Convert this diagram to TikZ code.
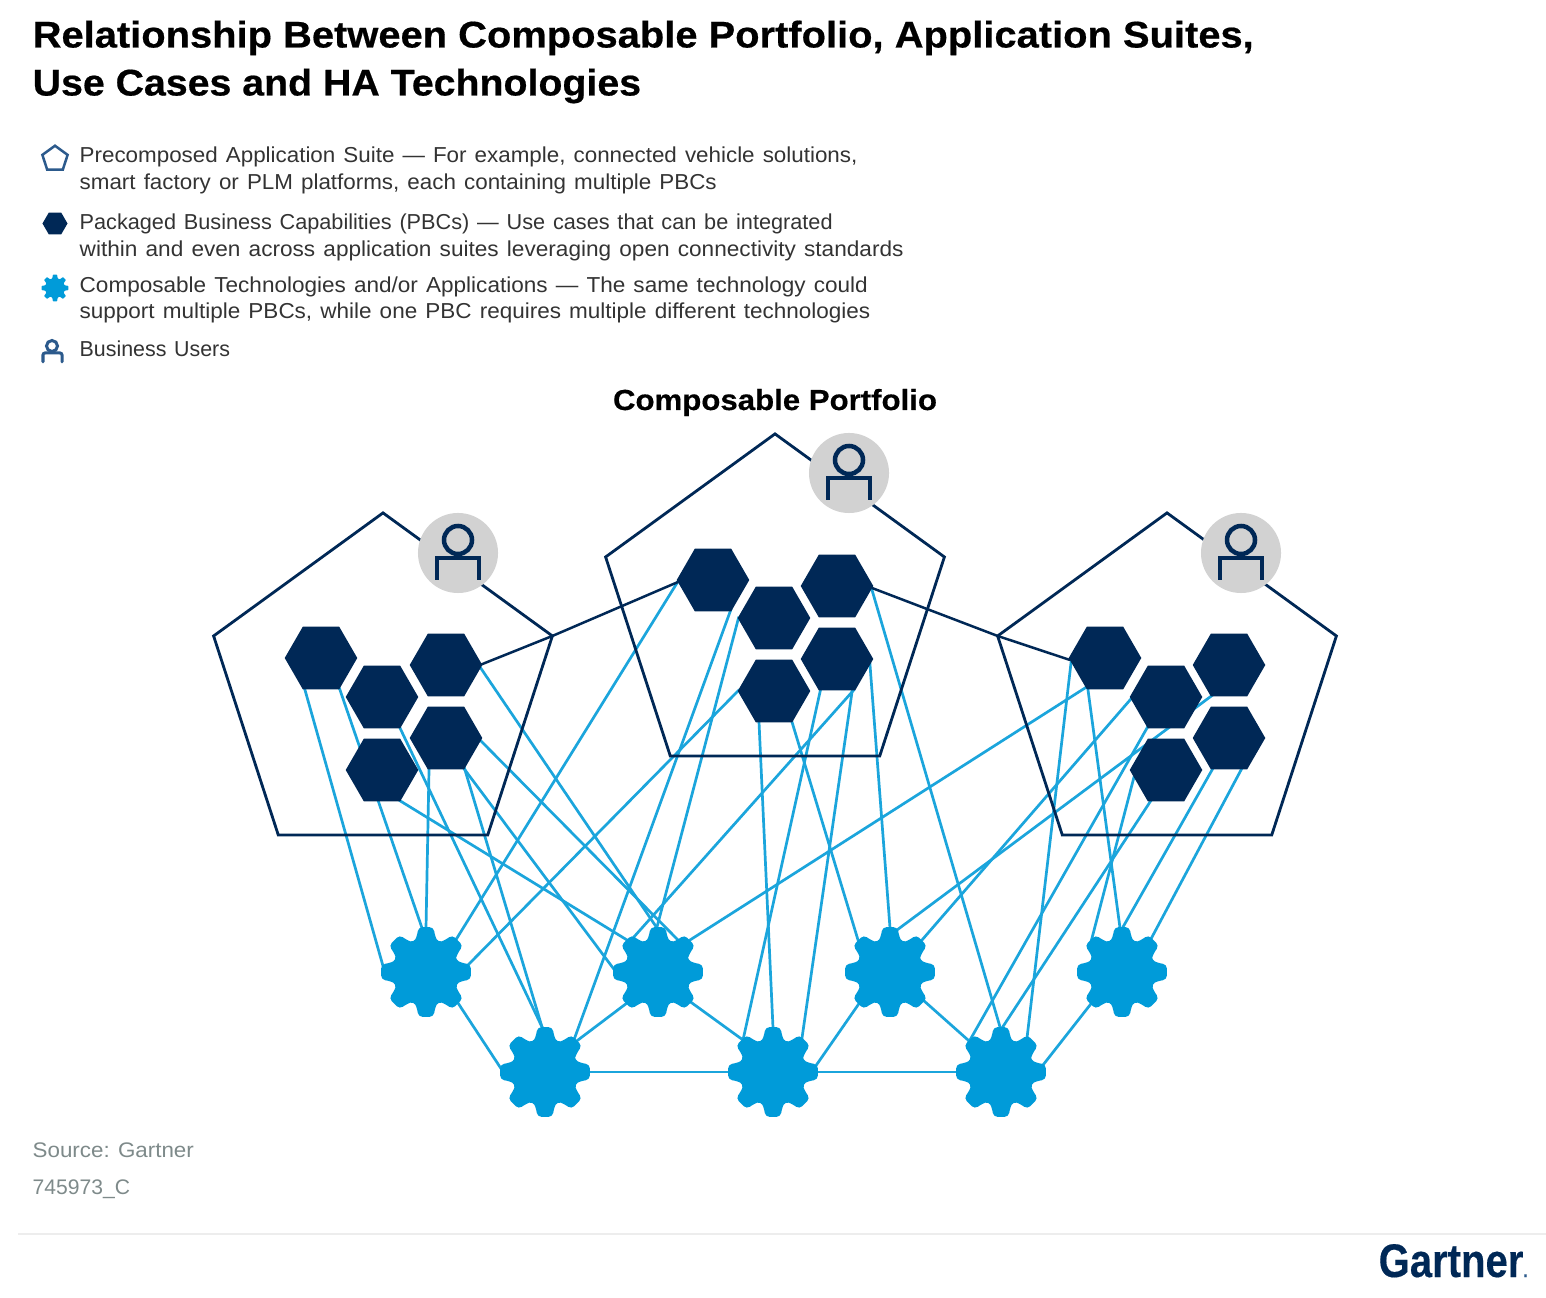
\documentclass[tikz,border=0pt]{standalone}
\usepackage{fontspec}
\setmainfont{Liberation Sans}
\newfontfamily\heavyfont[BoldFeatures={FakeStretch=1.075,FakeBold=0.5}]{Liberation Sans}
\newfontfamily\legendfont[FakeStretch=1.03,WordSpace=1.3]{Liberation Sans}
\newfontfamily\srcfont[FakeStretch=1.06]{Liberation Sans}
\newfontfamily\logofont[BoldFeatures={FakeStretch=0.85,FakeBold=0.3}]{Liberation Sans}
\usetikzlibrary{shapes.geometric}
\pgfdeclarelayer{connlayer}
\pgfsetlayers{connlayer,main}
\definecolor{navy}{HTML}{002856}
\definecolor{legendnavy}{HTML}{2C5A8C}
\definecolor{gearblue}{HTML}{009BD9}
\definecolor{wireblue}{HTML}{1BA5DC}
\definecolor{usergray}{HTML}{D2D2D2}
\definecolor{bodytext}{HTML}{333333}
\definecolor{srctext}{HTML}{7E8A8A}
\tikzset{
  x=0.01cm, y=-0.01cm,
  wire/.style={draw=wireblue, line width=0.027cm, shorten <=-1pt, shorten >=-1pt},
  darkwire/.style={draw=navy, line width=0.025cm},
  suite/.style={regular polygon, regular polygon sides=5, minimum size=3.56cm, inner sep=0pt, outer sep=0pt, draw=navy, line width=0.028cm},
  pbc/.style={regular polygon, regular polygon sides=6, minimum size=0.725cm, inner sep=0pt, outer sep=0pt, fill=navy},
  gearbody/.style={circle, minimum size=0.66cm, inner sep=0pt, outer sep=0pt, fill=gearblue},
  usercircle/.style={circle, minimum size=0.80cm, inner sep=0pt, outer sep=0pt, fill=usergray},
  titletext/.style={anchor=base west, inner sep=0pt, font=\fontsize{10.55}{13.66}\heavyfont\bfseries, text=black, align=left},
  legendtext/.style={anchor=base west, inner sep=0pt, font=\fontsize{6.15}{7.55}\legendfont, text=bodytext, align=left},
  sourcetext/.style={anchor=base west, inner sep=0pt, font=\fontsize{6.0}{7.5}\selectfont, text=srctext},
}
\newcommand{\wirelink}[4]{\begin{pgfonlayer}{connlayer}\draw[wire] ([shift={(#2)}]#1.center) -- ([shift={(#4)}]#3.center);\end{pgfonlayer}}
\newcommand{\geargear}[3]{%
  \node[gearbody] (#1) at (#2,#3) {};
  \fill[gearblue,rounded corners=0.04cm,shift={(#1.center)}] (-22.5:32)
    \foreach \a in {0,45,...,315}{ -- (\a-15:36) -- (\a-9.5:45.5) -- (\a+9.5:45.5) -- (\a+15:36) -- (\a+22.5:32) } -- cycle;
}
\newcommand{\usericon}[3]{%
  \node[usercircle] (#1) at (#2,#3) {};
  \draw[navy,line width=0.045cm] ([shift={(0,-13)}]#1.center) circle (0.14cm);
  \draw[navy,line width=0.045cm] ([shift={(-21,27)}]#1.center) -- ([shift={(-21,5)}]#1.center) -- ([shift={(21,5)}]#1.center) -- ([shift={(21,27)}]#1.center);
}
\begin{document}
\begin{tikzpicture}
\useasboundingbox (0,0) rectangle (1546,1298);
\begin{pgfonlayer}{connlayer}
\fill[white] (0,0) rectangle (1546,1298);
\end{pgfonlayer}

% Title
\node[titletext] (title1) at (32,47.5) {Relationship Between Composable Portfolio, Application Suites,};
\node[titletext] (title2) at (32,95.5) {\scalebox{0.985}[1]{Use Cases and HA Technologies}};

% Legend
\node[regular polygon, regular polygon sides=5, minimum size=0.265cm, inner sep=0pt, outer sep=0pt, draw=legendnavy, line width=0.025cm] (legA) at (55,159) {};
\node[legendtext] (legAt1) at (79,163) {\scalebox{1.005}[1]{Precomposed Application Suite — For example, connected vehicle solutions,}};
\node[legendtext] (legAt2) at (79,190) {\scalebox{1.005}[1]{smart factory or PLM platforms, each containing multiple PBCs}};
\node[regular polygon, regular polygon sides=6, minimum size=0.25cm, inner sep=0pt, outer sep=0pt, fill=navy] (legB) at (55,223.5) {};
\node[legendtext] (legBt1) at (79,230) {\scalebox{0.973}[1]{Packaged Business Capabilities (PBCs) — Use cases that can be integrated}};
\node[legendtext] (legBt2) at (79,257) {\scalebox{1.015}[1]{within and even across application suites leveraging open connectivity standards}};
\node[circle, minimum size=0.19cm, inner sep=0pt, outer sep=0pt, fill=gearblue] (legC) at (55,288) {};
\fill[gearblue,shift={(legC.center)},rounded corners=0.006cm] (-22.5:9.5)
  \foreach \a in {0,45,...,315}{ -- (\a-14:10.5) -- (\a-9:13.5) -- (\a+9:13.5) -- (\a+14:10.5) -- (\a+22.5:9.5) } -- cycle;
\node[legendtext] (legCt1) at (79,293) {\scalebox{1.012}[1]{Composable Technologies and/or Applications — The same technology could}};
\node[legendtext] (legCt2) at (79,319) {\scalebox{1.01}[1]{support multiple PBCs, while one PBC requires multiple different technologies}};
\coordinate (legD) at (52,350);
\draw[legendnavy,line width=0.03cm] ([shift={(0,-4)}]legD) circle (0.055cm);
\draw[legendnavy,line width=0.03cm,line cap=round,rounded corners=0.02cm] ([shift={(-9,12)}]legD) -- ([shift={(-9,3)}]legD) -- ([shift={(10,3)}]legD) -- ([shift={(10,12)}]legD);
\node[legendtext] (legDt1) at (79,357) {\scalebox{0.96}[1]{Business Users}};

\node[anchor=base, inner sep=0pt, font=\fontsize{8.25}{10}\heavyfont\bfseries, text=black] (ptitle) at (775,410) {Composable Portfolio};

% Suites
\node[suite] (SL) at (383,691) {};
\node[suite] (SM) at (775,612) {};
\node[suite] (SR) at (1167,691) {};

% PBC hexagons
\node[pbc] (L1) at (321,658) {};
\node[pbc] (L2) at (382,697) {};
\node[pbc] (L3) at (446,665) {};
\node[pbc] (L4) at (446,738) {};
\node[pbc] (L5) at (382,770) {};
\node[pbc] (M1) at (713,580) {};
\node[pbc] (M2) at (774,618) {};
\node[pbc] (M3) at (837,586) {};
\node[pbc] (M4) at (837,659) {};
\node[pbc] (M5) at (774,691) {};
\node[pbc] (R1) at (1105,658) {};
\node[pbc] (R2) at (1166,697) {};
\node[pbc] (R3) at (1229,665) {};
\node[pbc] (R4) at (1229,738) {};
\node[pbc] (R5) at (1166,770) {};

% Users
\usericon{UL}{458}{553}
\usericon{UM}{849}{473}
\usericon{UR}{1241}{553}

% Gears
\geargear{g1}{426}{972}
\geargear{g2}{658}{972}
\geargear{g3}{890}{972}
\geargear{g4}{1122}{972}
\geargear{b1}{545}{1072}
\geargear{b2}{773}{1072}
\geargear{b3}{1001}{1072}

% Dark links
\draw[darkwire] (L3.center) ++(34,0) -- (SL.corner 5);
\draw[darkwire] (M1.center) ++(-35,2) -- (SL.corner 5);
\draw[darkwire] (M3.center) ++(35,2) -- (SR.corner 2);
\draw[darkwire] (R1.center) ++(-35,2) -- (SR.corner 2);

% Left suite
\wirelink{L1}{-16,32}{g1}{-43,-6}
\wirelink{L1}{19,32}{g1}{-4,-44}
\wirelink{L4}{-17,32}{g1}{0,-44}
\wirelink{L2}{18,31}{b1}{-3,-45}
\wirelink{L4}{19,32}{b1}{-3,-45}
\wirelink{L4}{19,32}{g2}{-45,-4}
\wirelink{L4}{32,0}{g2}{22,-30}
\wirelink{L3}{34,2}{g2}{-1,-44}
\wirelink{L5}{20,32}{g2}{-31,-32}
% Middle suite
\wirelink{M1}{-36,3}{g1}{31,-34}
\wirelink{M1}{17,32}{b1}{30,-35}
\wirelink{M2}{-36,2}{g2}{-1,-45}
\wirelink{M5}{-37,1}{g1}{42,-7}
\wirelink{M5}{-15,31}{b2}{0,-44}
\wirelink{M5}{18,31}{g3}{-32,-32}
\wirelink{M4}{-17,33}{b2}{-30,-32}
\wirelink{M4}{15,33}{g2}{-25,-34}
\wirelink{M4}{15,33}{b2}{29,-34}
\wirelink{M4}{33,6}{g3}{0,-44}
\wirelink{M3}{35,4}{b3}{-1,-45}
% Right suite
\wirelink{R1}{-20,30}{g2}{32,-32}
\wirelink{R1}{-34,5}{b3}{26,-34}
\wirelink{R1}{-17,32}{g4}{-2,-44}
\wirelink{R2}{-36,3}{g3}{32,-32}
\wirelink{R2}{-19,31}{b3}{-31,-32}
\wirelink{R3}{-19,32}{g3}{7,-42}
\wirelink{R5}{-32,7}{g4}{-30,-34}
\wirelink{R5}{-16,32}{b3}{1,-44}
\wirelink{R4}{-17,32}{g4}{1,-45}
\wirelink{R4}{12,32}{g4}{30,-35}
% Gear to gear
\wirelink{g1}{32,31}{b1}{-45,-5}
\wirelink{b1}{33,-32}{g2}{-31,31}
\wirelink{b1}{45,0}{b2}{-45,0}
\wirelink{g2}{34,31}{b2}{-30,-32}
\wirelink{b2}{42,-5}{g3}{-32,33}
\wirelink{b2}{45,0}{b3}{-45,0}
\wirelink{g3}{33,28}{b3}{-33,-32}
\wirelink{b3}{42,-7}{g4}{-32,33}

% Footer
\node[sourcetext,font=\fontsize{6.0}{7.5}\srcfont] (src) at (32,1157) {Source: Gartner};
\node[sourcetext] (code) at (32,1194) {745973\_C};
\coordinate (ruleA) at (18,1234);
\coordinate (ruleB) at (1546,1234);
\draw[draw=black!7,line width=0.015cm] (ruleA) -- (ruleB);
\node[anchor=base west, inner sep=0pt, font=\fontsize{13.4}{15}\logofont\bfseries, text=navy] (logo) at (1378,1277) {Gartner\textcolor{legendnavy}{\fontsize{5}{5}\selectfont.}};
\end{tikzpicture}
\end{document}
